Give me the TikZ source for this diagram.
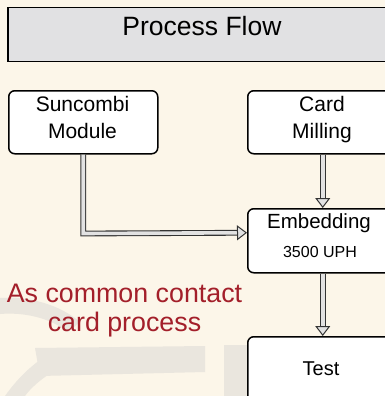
\documentclass[tikz,border=0pt]{standalone}
\usepackage{fontspec}
\setmainfont{Liberation Sans}
\usetikzlibrary{arrows.meta,calc}
\definecolor{bgcream}{HTML}{FCF6E9}
\definecolor{wmark}{HTML}{EAE6DE}
\definecolor{titlegray}{HTML}{E1E1E3}
\definecolor{redtext}{HTML}{A31F2A}
\definecolor{shaftfill}{HTML}{E2E2E2}
\begin{document}
\begin{tikzpicture}[x=1pt,y=-1pt,
  box/.style={draw=black, line width=1.5pt, fill=white, rounded corners=6pt, inner sep=0pt},
  lbl/.style={anchor=base, inner sep=0pt},
  flow/.style={draw=black!80, line width=1.1pt, double=shaftfill, double distance=3.6pt,
    -{Triangle[open, length=10pt, width=15pt, line width=1pt, fill=shaftfill]}},
]
\fill[bgcream] (0,0) rectangle (385,396);
\useasboundingbox (0,0) rectangle (385,396);
% faint watermark shapes
\fill[wmark] (0,298) .. controls (30,296) and (60,305) .. (80,322) -- (68,332) .. controls (50,318) and (25,312) .. (0,314) -- cycle;
\fill[wmark] (35,348) -- (205,346) -- (205,372) -- (40,376) -- cycle;
\fill[wmark] (5,396) .. controls (20,375) and (35,362) .. (55,350) -- (62,366) .. controls (45,376) and (32,386) .. (25,396) -- cycle;
\fill[wmark] (224,345) -- (248,345) -- (248,396) -- (224,396) -- cycle;
% title
\node[draw=black, line width=1.5pt, fill=titlegray, minimum width=390pt, minimum height=54pt, anchor=north west, inner sep=0pt] (title) at (7,7) {};
\node[lbl, font=\fontsize{26.5}{30}\selectfont] (titletext) at (202,36) {Process Flow};
% boxes
\node[box, minimum width=149pt, minimum height=63pt, anchor=north west] (sun) at (8,90) {};
\node[lbl, font=\fontsize{21}{27}\selectfont] (sun1) at (82.5,111) {Suncombi};
\node[lbl, font=\fontsize{21}{27}\selectfont] (sun2) at (82.5,138) {Module};
\node[box, minimum width=150pt, minimum height=63pt, anchor=north west] (card) at (247,90) {};
\node[lbl, font=\fontsize{21}{27}\selectfont] (card1) at (322,111) {Card};
\node[lbl, font=\fontsize{21}{27}\selectfont] (card2) at (322,138) {Milling};
\node[box, minimum width=150pt, minimum height=64pt, anchor=north west] (emb) at (247,208) {};
\node[lbl, font=\fontsize{20.5}{24}\selectfont] (embtext) at (319,228) {Embedding};
\node[lbl, font=\fontsize{16}{19}\selectfont] (uph) at (320,257) {3500 UPH};
\node[box, minimum width=150pt, minimum height=70pt, anchor=north west] (test) at (247,336) {};
\node[lbl, font=\fontsize{20}{24}\selectfont] (testtext) at (321,375) {Test};
% red note
\node[lbl, font=\fontsize{26.8}{30}\selectfont, text=redtext] (note1) at (124.5,302) {As common contact};
\node[lbl, font=\fontsize{26.8}{30}\selectfont, text=redtext] (note2) at (124.5,331) {card process};
% connectors
\coordinate (turn) at ($(sun.south)+(0,79)$);
\coordinate (embin) at ($(emb.west)+(0,-8)$);
\draw[flow] (sun.south) -- (turn) -- (embin);
\draw[flow] (card.south) -- (emb.north);
\draw[flow] (emb.south) -- (test.north);
\end{tikzpicture}
\end{document}
